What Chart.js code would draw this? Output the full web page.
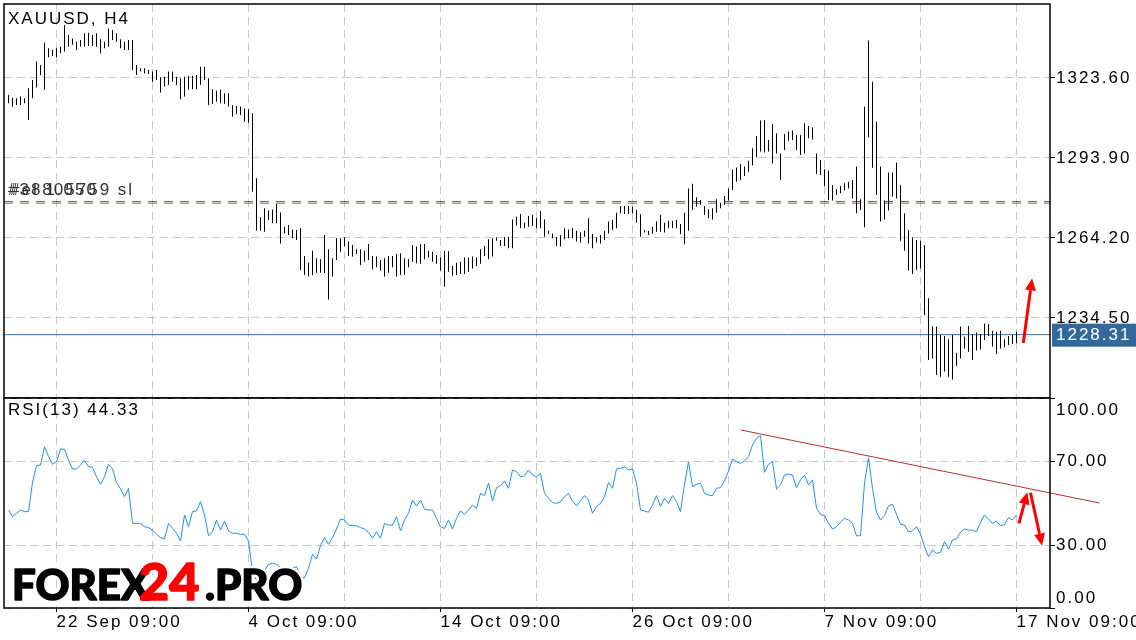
<!DOCTYPE html>
<html>
<head>
<meta charset="utf-8">
<title>XAUUSD, H4</title>
<script src="https://cdn.jsdelivr.net/npm/chart.js@4.4.0/dist/chart.umd.min.js"></script>
<style>
  html, body { margin: 0; padding: 0; background: #fff; }
  #wrap { position: relative; width: 1136px; height: 640px; overflow: hidden; }
  #priceBox { position: absolute; left: 0; top: 0; width: 1136px; height: 400px; }
  #rsiBox { position: absolute; left: 0; top: 390px; width: 1136px; height: 250px; }
</style>
</head>
<body>
<div id="wrap">
  <div id="priceBox"><canvas id="priceChart" width="1136" height="400"></canvas></div>
  <div id="rsiBox"><canvas id="rsiChart" width="1136" height="250"></canvas></div>
</div>
<script>
const FONT = '"Liberation Sans", Arial, sans-serif';

// H4 bars, one per index, last bar = 17 Nov 09:00
const highs = [
  1317.3, 1316.3, 1316.1, 1316.7, 1316.1, 1319.8, 1322.9, 1329.7, 1328.4, 1336.7,
  1334.6, 1334.0, 1334.6, 1335.2, 1343.3, 1339.6, 1338.3, 1337.1, 1337.7, 1340.2,
  1340.4, 1339.6, 1340.2, 1338.0, 1337.1, 1342.0, 1341.4, 1340.2, 1338.0, 1337.1,
  1337.7, 1337.7, 1328.4, 1327.2, 1327.2, 1326.6, 1326.0, 1326.6, 1323.9, 1324.1,
  1326.0, 1326.0, 1324.1, 1323.5, 1324.1, 1324.4, 1324.4, 1324.7, 1327.8, 1327.8,
  1323.5, 1319.4, 1318.9, 1319.2, 1317.9, 1317.9, 1313.5, 1313.2, 1313.0, 1312.3,
  1312.0, 1310.5, 1286.4, 1271.9, 1275.2, 1274.4, 1274.8, 1276.8, 1273.7, 1268.4,
  1269.0, 1267.4, 1267.2, 1267.8, 1257.5, 1255.0, 1259.5, 1256.7, 1256.3, 1265.3,
  1260.0, 1256.7, 1264.1, 1264.1, 1264.5, 1262.9, 1261.6, 1260.0, 1260.0, 1259.4,
  1262.0, 1257.5, 1257.3, 1256.0, 1256.7, 1257.5, 1257.5, 1258.3, 1258.5, 1256.7,
  1256.4, 1261.6, 1261.0, 1262.0, 1262.0, 1259.5, 1259.1, 1257.9, 1257.0, 1259.4,
  1259.4, 1253.8, 1255.0, 1255.4, 1257.0, 1257.0, 1257.3, 1257.0, 1260.0, 1261.2,
  1263.7, 1264.1, 1264.5, 1263.5, 1264.5, 1264.7, 1271.1, 1272.1, 1273.1, 1269.9,
  1272.4, 1272.7, 1271.5, 1274.2, 1271.1, 1266.9, 1265.9, 1264.5, 1265.3, 1267.8,
  1267.4, 1267.8, 1266.9, 1266.2, 1266.9, 1271.5, 1265.7, 1264.5, 1265.3, 1266.9,
  1270.3, 1270.9, 1273.6, 1276.1, 1276.1, 1276.1, 1275.8, 1274.6, 1273.0, 1267.2,
  1266.9, 1268.4, 1270.3, 1272.7, 1269.9, 1270.6, 1270.5, 1270.9, 1269.4, 1273.6,
  1282.6, 1284.3, 1279.3, 1278.3, 1276.1, 1274.8, 1275.2, 1278.6, 1277.3, 1279.8,
  1282.6, 1289.5, 1290.4, 1291.7, 1290.7, 1292.9, 1297.5, 1302.1, 1307.8, 1308.0,
  1300.6, 1306.5, 1303.1, 1295.6, 1302.8, 1303.7, 1304.1, 1302.4, 1302.4, 1306.8,
  1305.8, 1305.2, 1295.6, 1293.2, 1289.7, 1289.2, 1283.9, 1282.3, 1283.5, 1284.5,
  1285.1, 1285.7, 1290.7, 1278.6, 1313.0, 1337.5, 1322.2, 1307.4, 1290.7, 1278.1,
  1288.5, 1288.5, 1292.2, 1283.9, 1273.4, 1267.2, 1264.5, 1263.5, 1263.2, 1261.6,
  1241.8, 1231.3, 1231.3, 1228.2, 1227.8, 1226.6, 1228.2, 1221.6, 1231.3, 1227.6,
  1231.5, 1228.6, 1229.1, 1228.6, 1232.5, 1232.3, 1229.8, 1229.4, 1229.8, 1226.6,
  1227.8, 1228.2, 1229.4
];
const lows = [
  1314.2, 1312.9, 1313.6, 1313.5, 1314.2, 1308.0, 1316.1, 1320.1, 1324.7, 1319.2,
  1331.3, 1331.8, 1331.3, 1332.8, 1333.4, 1335.2, 1335.9, 1334.0, 1335.2, 1335.2,
  1335.5, 1335.5, 1335.2, 1332.8, 1334.6, 1335.2, 1337.7, 1337.1, 1334.6, 1334.0,
  1334.0, 1326.6, 1324.7, 1326.0, 1325.3, 1325.1, 1322.2, 1322.9, 1318.2, 1320.4,
  1321.0, 1322.2, 1321.0, 1315.7, 1316.7, 1319.2, 1319.4, 1319.4, 1321.0, 1322.9,
  1313.6, 1314.0, 1314.8, 1314.2, 1314.0, 1313.0, 1309.2, 1310.2, 1309.9, 1307.4,
  1307.0, 1281.4, 1266.9, 1266.9, 1266.5, 1270.9, 1269.7, 1269.7, 1262.2, 1265.9,
  1265.3, 1264.1, 1263.5, 1252.3, 1250.5, 1249.9, 1250.5, 1251.3, 1251.3, 1251.1,
  1241.4, 1249.9, 1256.0, 1259.1, 1261.0, 1257.5, 1257.3, 1258.3, 1254.2, 1255.4,
  1256.0, 1252.6, 1253.3, 1252.1, 1249.9, 1251.3, 1253.3, 1249.9, 1250.5, 1250.6,
  1253.3, 1255.4, 1254.8, 1254.6, 1256.3, 1257.0, 1255.4, 1254.6, 1252.1, 1246.1,
  1251.7, 1250.2, 1250.5, 1250.8, 1250.8, 1251.7, 1252.9, 1253.8, 1254.6, 1257.5,
  1256.3, 1257.3, 1263.2, 1261.2, 1261.2, 1260.4, 1260.4, 1268.8, 1267.8, 1267.8,
  1268.4, 1268.7, 1267.8, 1267.8, 1264.7, 1265.7, 1264.1, 1261.2, 1261.0, 1263.7,
  1264.1, 1264.1, 1262.9, 1262.5, 1264.7, 1262.2, 1260.4, 1262.5, 1262.2, 1263.5,
  1265.9, 1267.2, 1267.8, 1273.4, 1273.1, 1273.1, 1273.4, 1269.9, 1264.7, 1266.2,
  1265.3, 1265.9, 1266.5, 1266.5, 1266.2, 1267.8, 1267.8, 1267.8, 1265.7, 1261.9,
  1266.9, 1274.6, 1275.8, 1276.5, 1272.7, 1271.5, 1271.1, 1273.6, 1275.2, 1276.5,
  1278.1, 1282.0, 1285.1, 1285.7, 1287.2, 1288.8, 1291.1, 1294.2, 1296.3, 1295.9,
  1296.3, 1291.9, 1295.6, 1285.7, 1296.9, 1300.3, 1300.6, 1296.9, 1295.0, 1295.6,
  1301.2, 1300.8, 1288.0, 1287.6, 1283.5, 1278.3, 1278.1, 1280.2, 1280.8, 1281.8,
  1282.6, 1278.9, 1273.4, 1274.6, 1268.2, 1301.6, 1290.3, 1280.2, 1270.3, 1271.1,
  1274.4, 1279.6, 1278.9, 1263.2, 1259.5, 1252.1, 1250.8, 1252.3, 1252.9, 1235.6,
  1218.9, 1219.5, 1213.3, 1212.7, 1214.6, 1212.7, 1211.7, 1216.7, 1219.5, 1223.2,
  1222.0, 1218.9, 1222.4, 1222.9, 1226.3, 1227.8, 1223.9, 1221.1, 1223.2, 1223.6,
  1224.5, 1224.9, 1225.1
];
const rsiValues = [
  46.7, 43.5, 45.1, 46.7, 45.9, 45.9, 59.8, 67.8, 68.1, 76.8,
  72.1, 68.4, 69.7, 75.7, 75.6, 70.5, 66.2, 66.2, 68.1, 70.3,
  67.3, 67.0, 62.5, 58.9, 62.5, 68.4, 66.2, 59.8, 56.7, 53.0,
  57.0, 40.3, 40.3, 40.3, 38.7, 38.3, 37.1, 35.1, 33.5, 32.9,
  40.3, 37.9, 35.6, 31.9, 44.3, 38.7, 45.9, 46.2, 50.6, 44.3,
  34.4, 36.3, 41.9, 37.1, 41.4, 36.7, 35.6, 35.6, 35.1, 35.1,
  31.9, 17.3, 13.3, 11.7, 17.6, 20.8, 21.3, 20.8, 19.2, 18.6,
  19.2, 18.9, 19.7, 14.9, 14.4, 18.9, 25.6, 23.3, 29.7, 33.5,
  30.3, 33.5, 37.6, 42.4, 41.9, 39.5, 39.2, 39.2, 38.3, 37.6,
  36.0, 33.2, 36.3, 33.2, 40.3, 39.5, 39.5, 43.5, 36.7, 41.9,
  45.1, 51.4, 48.6, 51.4, 47.0, 46.7, 46.7, 42.7, 38.7, 37.9,
  41.9, 37.6, 42.7, 46.2, 44.6, 46.7, 49.0, 47.5, 54.6, 53.5,
  59.4, 51.0, 57.3, 58.3, 60.5, 57.0, 65.7, 64.9, 62.5, 63.0,
  65.7, 63.3, 62.5, 64.1, 54.6, 52.2, 50.3, 49.8, 50.6, 53.0,
  54.6, 51.0, 48.6, 51.0, 53.5, 51.4, 45.1, 48.3, 49.8, 53.0,
  59.8, 57.0, 66.2, 66.5, 67.3, 65.7, 66.2, 59.4, 46.7, 46.2,
  45.6, 49.0, 53.5, 48.3, 52.2, 49.8, 53.5, 50.6, 45.9, 58.9,
  69.7, 57.8, 58.9, 59.4, 54.6, 53.8, 53.5, 57.0, 57.3, 60.5,
  65.2, 71.0, 69.7, 68.9, 70.0, 72.1, 77.6, 80.8, 82.1, 64.6,
  68.4, 69.7, 56.7, 58.6, 63.3, 63.7, 63.3, 57.3, 61.0, 63.3,
  58.6, 61.0, 47.5, 44.6, 44.0, 40.3, 37.6, 38.7, 40.8, 42.7,
  41.9, 40.3, 34.4, 34.4, 59.4, 71.6, 57.0, 45.6, 41.9, 44.0,
  48.7, 49.4, 44.6, 39.8, 39.5, 36.3, 36.7, 38.7, 35.1, 29.2,
  24.4, 27.6, 26.0, 26.5, 31.6, 28.1, 32.4, 32.9, 36.0, 37.6,
  37.1, 37.1, 36.3, 40.8, 44.3, 42.4, 40.3, 41.4, 39.2, 39.8,
  43.0, 41.9, 44.33
];

const lastPrice = 1228.31;
const orderOpen = 1277.7;   // green dashed
const orderStop = 1277.1;   // orange dashed
const priceTicks = [1323.6, 1293.9, 1264.2, 1234.5];
const rsiTicks = [100, 70, 30, 0];
const gridIdx = [12, 36, 60, 84, 108, 132, 156, 180, 204, 228, 252];
const labelIdx = [12, 60, 108, 156, 204, 252];
const xLabels = ['22 Sep 09:00', '4 Oct 09:00', '14 Oct 09:00', '26 Oct 09:00', '7 Nov 09:00', '17 Nov 09:00'];

// hand drawn annotations, in bar index / value units
const trendLine = [{ x: 183, y: 84.8 }, { x: 272.75, y: 50.0 }];
const priceArrow = [253.7, 1225.2, 255.9, 1249.2];
const rsiArrows = [[252.6, 40.3, 254.7, 55.1], [255.5, 54.9, 258.4, 29.7]];

const xMin = -1.125, xMax = 260.375;

function drawText(ctx, str, x, y, size, color, align) {
  ctx.save();
  ctx.font = size + 'px ' + FONT;
  ctx.fillStyle = color;
  ctx.textAlign = align || 'left';
  ctx.textBaseline = 'middle';
  ctx.letterSpacing = '2px';
  ctx.fillText(str, x, y);
  ctx.restore();
}

function drawFrame(chart) {
  const { ctx, chartArea: a } = chart;
  ctx.save();
  ctx.strokeStyle = '#000';
  ctx.lineWidth = 1.5;
  ctx.strokeRect(a.left, a.top, a.right - a.left, a.bottom - a.top);
  ctx.restore();
}

function drawArrow(chart, yId, a) {
  const ctx = chart.ctx;
  const xs = chart.scales.x, ys = chart.scales[yId];
  const x1 = xs.getPixelForValue(a[0]), y1 = ys.getPixelForValue(a[1]);
  const x2 = xs.getPixelForValue(a[2]), y2 = ys.getPixelForValue(a[3]);
  const ang = Math.atan2(y2 - y1, x2 - x1);
  const len = 12, half = 5.5;
  const bx = x2 - len * Math.cos(ang), by = y2 - len * Math.sin(ang);
  ctx.save();
  ctx.strokeStyle = '#ff0000';
  ctx.fillStyle = '#ff0000';
  ctx.lineWidth = 3;
  ctx.beginPath();
  ctx.moveTo(x1, y1);
  ctx.lineTo(bx, by);
  ctx.stroke();
  ctx.beginPath();
  ctx.moveTo(x2, y2);
  ctx.lineTo(bx + half * Math.sin(ang), by - half * Math.cos(ang));
  ctx.lineTo(bx - half * Math.sin(ang), by + half * Math.cos(ang));
  ctx.closePath();
  ctx.fill();
  ctx.restore();
}

const spacing = {
  id: 'spacing',
  beforeDraw(chart) { chart.ctx.letterSpacing = '2px'; }
};

const priceOverlay = {
  id: 'priceOverlay',
  afterDraw(chart) {
    const ctx = chart.ctx;
    const ys = chart.scales.y;
    drawFrame(chart);
    drawText(ctx, 'XAUUSD, H4', 8, 19, 17, '#000');

    const oy = ys.getPixelForValue(orderOpen) - 11;
    drawText(ctx, '#38805759 sl', 8, oy, 17, '#333');
    drawText(ctx, '#el 1.050', 10, oy, 17, '#333');

    // current price tag
    const py = ys.getPixelForValue(lastPrice);
    ctx.save();
    ctx.fillStyle = '#35689a';
    ctx.fillRect(chart.chartArea.right + 2, py - 11, 90, 23);
    ctx.restore();
    drawText(ctx, lastPrice.toFixed(2), chart.chartArea.right + 6, py + 1, 17, '#fff');

    drawArrow(chart, 'y', priceArrow);
  }
};

const rsiOverlay = {
  id: 'rsiOverlay',
  afterDraw(chart) {
    const ctx = chart.ctx;
    const ys = chart.scales.y;
    const a = chart.chartArea;
    drawFrame(chart);
    drawText(ctx, 'RSI(13) 44.33', 8, a.top + 12, 17, '#000');

    rsiTicks.forEach(v => {
      let y = ys.getPixelForValue(v);
      if (v === 100) y += 12;
      if (v === 0) y -= 10;
      drawText(ctx, v.toFixed(2), a.right + 6, y, 17, '#000');
    });

    rsiArrows.forEach(r => drawArrow(chart, 'y', r));

    // site watermark
    ctx.save();
    ctx.letterSpacing = '0px';
    ctx.textBaseline = 'alphabetic';
    ctx.lineJoin = 'round';
    const base = 210;
    const parts = [
      ['FOREX', 12, 42, '#000'],
      ['24', 139, 52, '#ff0000'],
      ['.PRO', 205, 42, '#000']
    ];
    parts.forEach(p => {
      ctx.font = '900 ' + p[2] + 'px Lato, "DejaVu Sans", sans-serif';
      ctx.strokeStyle = '#fff';
      ctx.lineWidth = 6;
      ctx.strokeText(p[0], p[1], base);
    });
    parts.forEach(p => {
      ctx.font = '900 ' + p[2] + 'px Lato, "DejaVu Sans", sans-serif';
      ctx.fillStyle = p[3];
      ctx.strokeStyle = p[3];
      ctx.lineWidth = 1.5;
      ctx.strokeText(p[0], p[1], base);
      ctx.fillText(p[0], p[1], base);
    });
    ctx.restore();
  }
};

function setGridTicks(s) { s.ticks = gridIdx.map(v => ({ value: v })); }

new Chart(document.getElementById('priceChart'), {
  type: 'bar',
  data: {
    datasets: [
      {
        type: 'bar',
        data: highs.map((h, i) => ({ x: i, y: [lows[i], h] })),
        backgroundColor: '#000',
        borderWidth: 0,
        inflateAmount: 0,
        barThickness: 1,
        order: 1
      },
      {
        type: 'line',
        data: [{ x: xMin, y: lastPrice }, { x: xMax, y: lastPrice }],
        borderColor: '#3d6a96',
        borderWidth: 1,
        pointRadius: 0,
        order: 2
      },
      {
        type: 'line',
        data: [{ x: xMin, y: orderOpen }, { x: xMax, y: orderOpen }],
        borderColor: '#1f7a1f',
        borderWidth: 1,
        borderDash: [9, 7],
        pointRadius: 0,
        order: 3
      },
      {
        type: 'line',
        data: [{ x: xMin, y: orderStop }, { x: xMax, y: orderStop }],
        borderColor: '#e8561e',
        borderWidth: 1,
        borderDash: [9, 7],
        pointRadius: 0,
        order: 4
      }
    ]
  },
  options: {
    responsive: false,
    animation: false,
    events: [],
    devicePixelRatio: 1,
    layout: { padding: { left: 4, top: 4, right: 0, bottom: 2 } },
    plugins: { legend: { display: false }, tooltip: { enabled: false } },
    scales: {
      x: {
        type: 'linear',
        min: xMin,
        max: xMax,
        offset: false,
        bounds: 'data',
        afterBuildTicks: setGridTicks,
        afterFit(s) { s.height = 0; s.paddingLeft = 0; s.paddingRight = 0; },
        ticks: { display: false },
        grid: { color: '#c8c8c8', drawTicks: false, offset: false },
        border: { display: false, dash: [8, 5] }
      },
      y: {
        position: 'right',
        min: 1204.8,
        max: 1351.07,
        bounds: 'data',
        afterBuildTicks(s) { s.ticks = priceTicks.map(v => ({ value: v })); },
        afterFit(s) { s.width = 86; s.paddingTop = 0; s.paddingBottom = 0; },
        ticks: {
          font: { family: FONT, size: 17 },
          color: '#000',
          padding: 1,
          callback: v => v.toFixed(2)
        },
        grid: { color: '#c8c8c8', tickColor: '#000', tickLength: 5 },
        border: { display: false, dash: [8, 5] }
      }
    }
  },
  plugins: [spacing, priceOverlay]
});

new Chart(document.getElementById('rsiChart'), {
  type: 'line',
  data: {
    datasets: [
      {
        data: rsiValues.map((v, i) => ({ x: i, y: v })),
        borderColor: '#1e90ff',
        borderWidth: 1,
        pointRadius: 0,
        tension: 0
      },
      {
        data: trendLine,
        borderColor: '#b5302f',
        borderWidth: 1,
        pointRadius: 0,
        clip: false
      }
    ]
  },
  options: {
    responsive: false,
    animation: false,
    events: [],
    devicePixelRatio: 1,
    layout: { padding: { left: 4, top: 8, right: 0, bottom: 0 } },
    plugins: { legend: { display: false }, tooltip: { enabled: false } },
    scales: {
      x: {
        type: 'linear',
        min: xMin,
        max: xMax,
        bounds: 'data',
        afterBuildTicks: setGridTicks,
        afterFit(s) { s.height = 32; s.paddingLeft = 0; s.paddingRight = 0; },
        ticks: {
          align: 'start',
          autoSkip: false,
          maxRotation: 0,
          padding: 0,
          font: { family: FONT, size: 17 },
          color: '#000',
          callback: v => {
            const k = labelIdx.indexOf(v);
            return k >= 0 ? xLabels[k] : '';
          }
        },
        grid: {
          color: '#c8c8c8',
          tickLength: 4,
          tickColor: c => (c.tick && labelIdx.includes(c.tick.value)) ? '#000' : 'rgba(0,0,0,0)'
        },
        border: { display: false, dash: [8, 5] }
      },
      y: {
        position: 'right',
        min: 0,
        max: 100,
        bounds: 'data',
        afterBuildTicks(s) { s.ticks = rsiTicks.map(v => ({ value: v })); },
        afterFit(s) { s.width = 86; s.paddingTop = 0; s.paddingBottom = 0; },
        ticks: { display: false },
        grid: { color: '#c8c8c8', tickColor: '#000', tickLength: 5 },
        border: { display: false, dash: [8, 5] }
      }
    }
  },
  plugins: [spacing, rsiOverlay]
});
</script>
</body>
</html>
